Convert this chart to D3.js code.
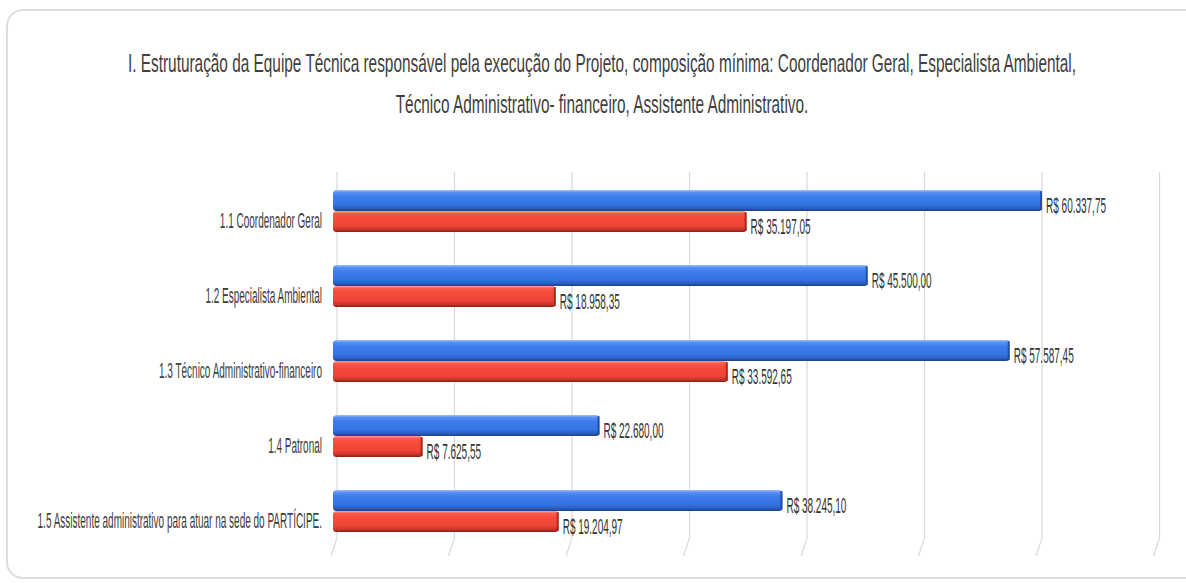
<!DOCTYPE html>
<html><head><meta charset="utf-8">
<script src="https://cdn.jsdelivr.net/npm/d3@7"></script>
<style>html,body{margin:0;padding:0;background:#fff;}svg{display:block;}</style>
</head><body>
<svg id="c" width="1186" height="583"></svg>
<script>
const titleLines = ["I. Estruturação da Equipe Técnica responsável pela execução do Projeto, composição mínima: Coordenador Geral, Especialista Ambiental,",
  "Técnico Administrativo- financeiro, Assistente Administrativo."];
const categories = ["1.1 Coordenador Geral","1.2 Especialista Ambiental","1.3 Técnico Administrativo-financeiro","1.4 Patronal","1.5 Assistente administrativo para atuar na sede do PARTÍCIPE."];
const seriesNames = ["Valor A","Valor B"];
const blueValues = [60337.75, 45500.00, 57587.45, 22680.00, 38245.10];
const redValues = [35197.05, 18958.35, 33592.65, 7625.55, 19204.97];
const valueLabelsBlue = ["R$ 60.337,75","R$ 45.500,00","R$ 57.587,45","R$ 22.680,00","R$ 38.245,10"];
const valueLabelsRed = ["R$ 35.197,05","R$ 18.958,35","R$ 33.592,65","R$ 7.625,55","R$ 19.204,97"];
const gridTicks = [0,10000,20000,30000,40000,50000,60000,70000];

const svg = d3.select("#c");
const FONT = "'Liberation Sans', Arial, sans-serif";

// card
svg.append("rect").attr("x",7).attr("y",10).attr("width",1220).attr("height",568)
  .attr("rx",16).attr("fill","#fff").attr("stroke","#dedede").attr("stroke-width",2);

const x = d3.scaleLinear().domain([0,70000]).range([333, 333+70000*0.011751]);
const y = d3.scaleBand().domain(categories).range([173.5,548.5]).paddingInner(0.44).paddingOuter(0.22);
const ys = d3.scaleBand().domain(seriesNames).range([0,y.bandwidth()]);

// defs gradients
const defs = svg.append("defs");
function grad(id, stops){
  const g = defs.append("linearGradient").attr("id",id).attr("x1",0).attr("y1",0).attr("x2",0).attr("y2",1);
  stops.forEach(s=>g.append("stop").attr("offset",s[0]).attr("stop-color",s[1]));
}
grad("gBlue",[["0%","#9cc0fa"],["12%","#5690f2"],["30%","#3d7ceb"],["70%","#3473e2"],["88%","#2a5cc0"],["100%","#1d3f86"]]);
grad("gRed",[["0%","#ffa193"],["12%","#fb5a48"],["30%","#f74a3b"],["70%","#ef4536"],["88%","#c7342a"],["100%","#8a1e17"]]);

// gridlines (back wall, with floor slant)
svg.append("g").selectAll("path").data(gridTicks).join("path")
  .attr("d", t => `M${x(t)+4},172 V538 L${x(t)-2},556`)
  .attr("fill","none").attr("stroke","#d9d9d9").attr("stroke-width",1.2);

// title
const tg = svg.append("g");
titleLines.forEach((t,i)=>{
  tg.append("text").attr("transform",`translate(602,${72+i*41}) scale(0.603,1)`)
    .attr("text-anchor","middle").attr("font-family",FONT).attr("font-size",25.5)
    .attr("fill","#404040").text(t);
});

// category labels
svg.append("g").selectAll("text").data(categories).join("text")
  .attr("transform", d => `translate(322,${y(d)+y.bandwidth()/2+17}) scale(0.465,1)`)
  .attr("text-anchor","end").attr("font-family",FONT).attr("font-size",21.5)
  .attr("fill","#404040").text(d=>d);

// bars
const rows = categories.map((c,i)=>({c, vals:[
  {s:seriesNames[0], v:blueValues[i], lab:valueLabelsBlue[i], fill:"url(#gBlue)", edge:"#1f4598"},
  {s:seriesNames[1], v:redValues[i], lab:valueLabelsRed[i], fill:"url(#gRed)", edge:"#9a2219"}]}));
const gRow = svg.append("g").selectAll("g").data(rows).join("g")
  .attr("transform", d=>`translate(0,${y(d.c)})`);
const gBar = gRow.selectAll("g").data(d=>d.vals).join("g")
  .attr("transform", d=>`translate(0,${ys(d.s)})`);
gBar.append("rect").attr("x",x(0)).attr("y",0).attr("width",d=>x(d.v)-x(0))
  .attr("height",ys.bandwidth()).attr("rx",3.5).attr("fill",d=>d.fill);
gBar.append("rect").attr("x",d=>x(d.v)-2).attr("y",1).attr("width",2)
  .attr("height",ys.bandwidth()-2).attr("fill",d=>d.edge).attr("opacity",0.8);
gBar.append("text").attr("transform", d=>`translate(${x(d.v)+4},${ys.bandwidth()/2+12}) scale(0.465,1)`)
  .attr("font-family",FONT).attr("font-size",21.5).attr("fill","#333").text(d=>d.lab);
</script>
</body></html>
